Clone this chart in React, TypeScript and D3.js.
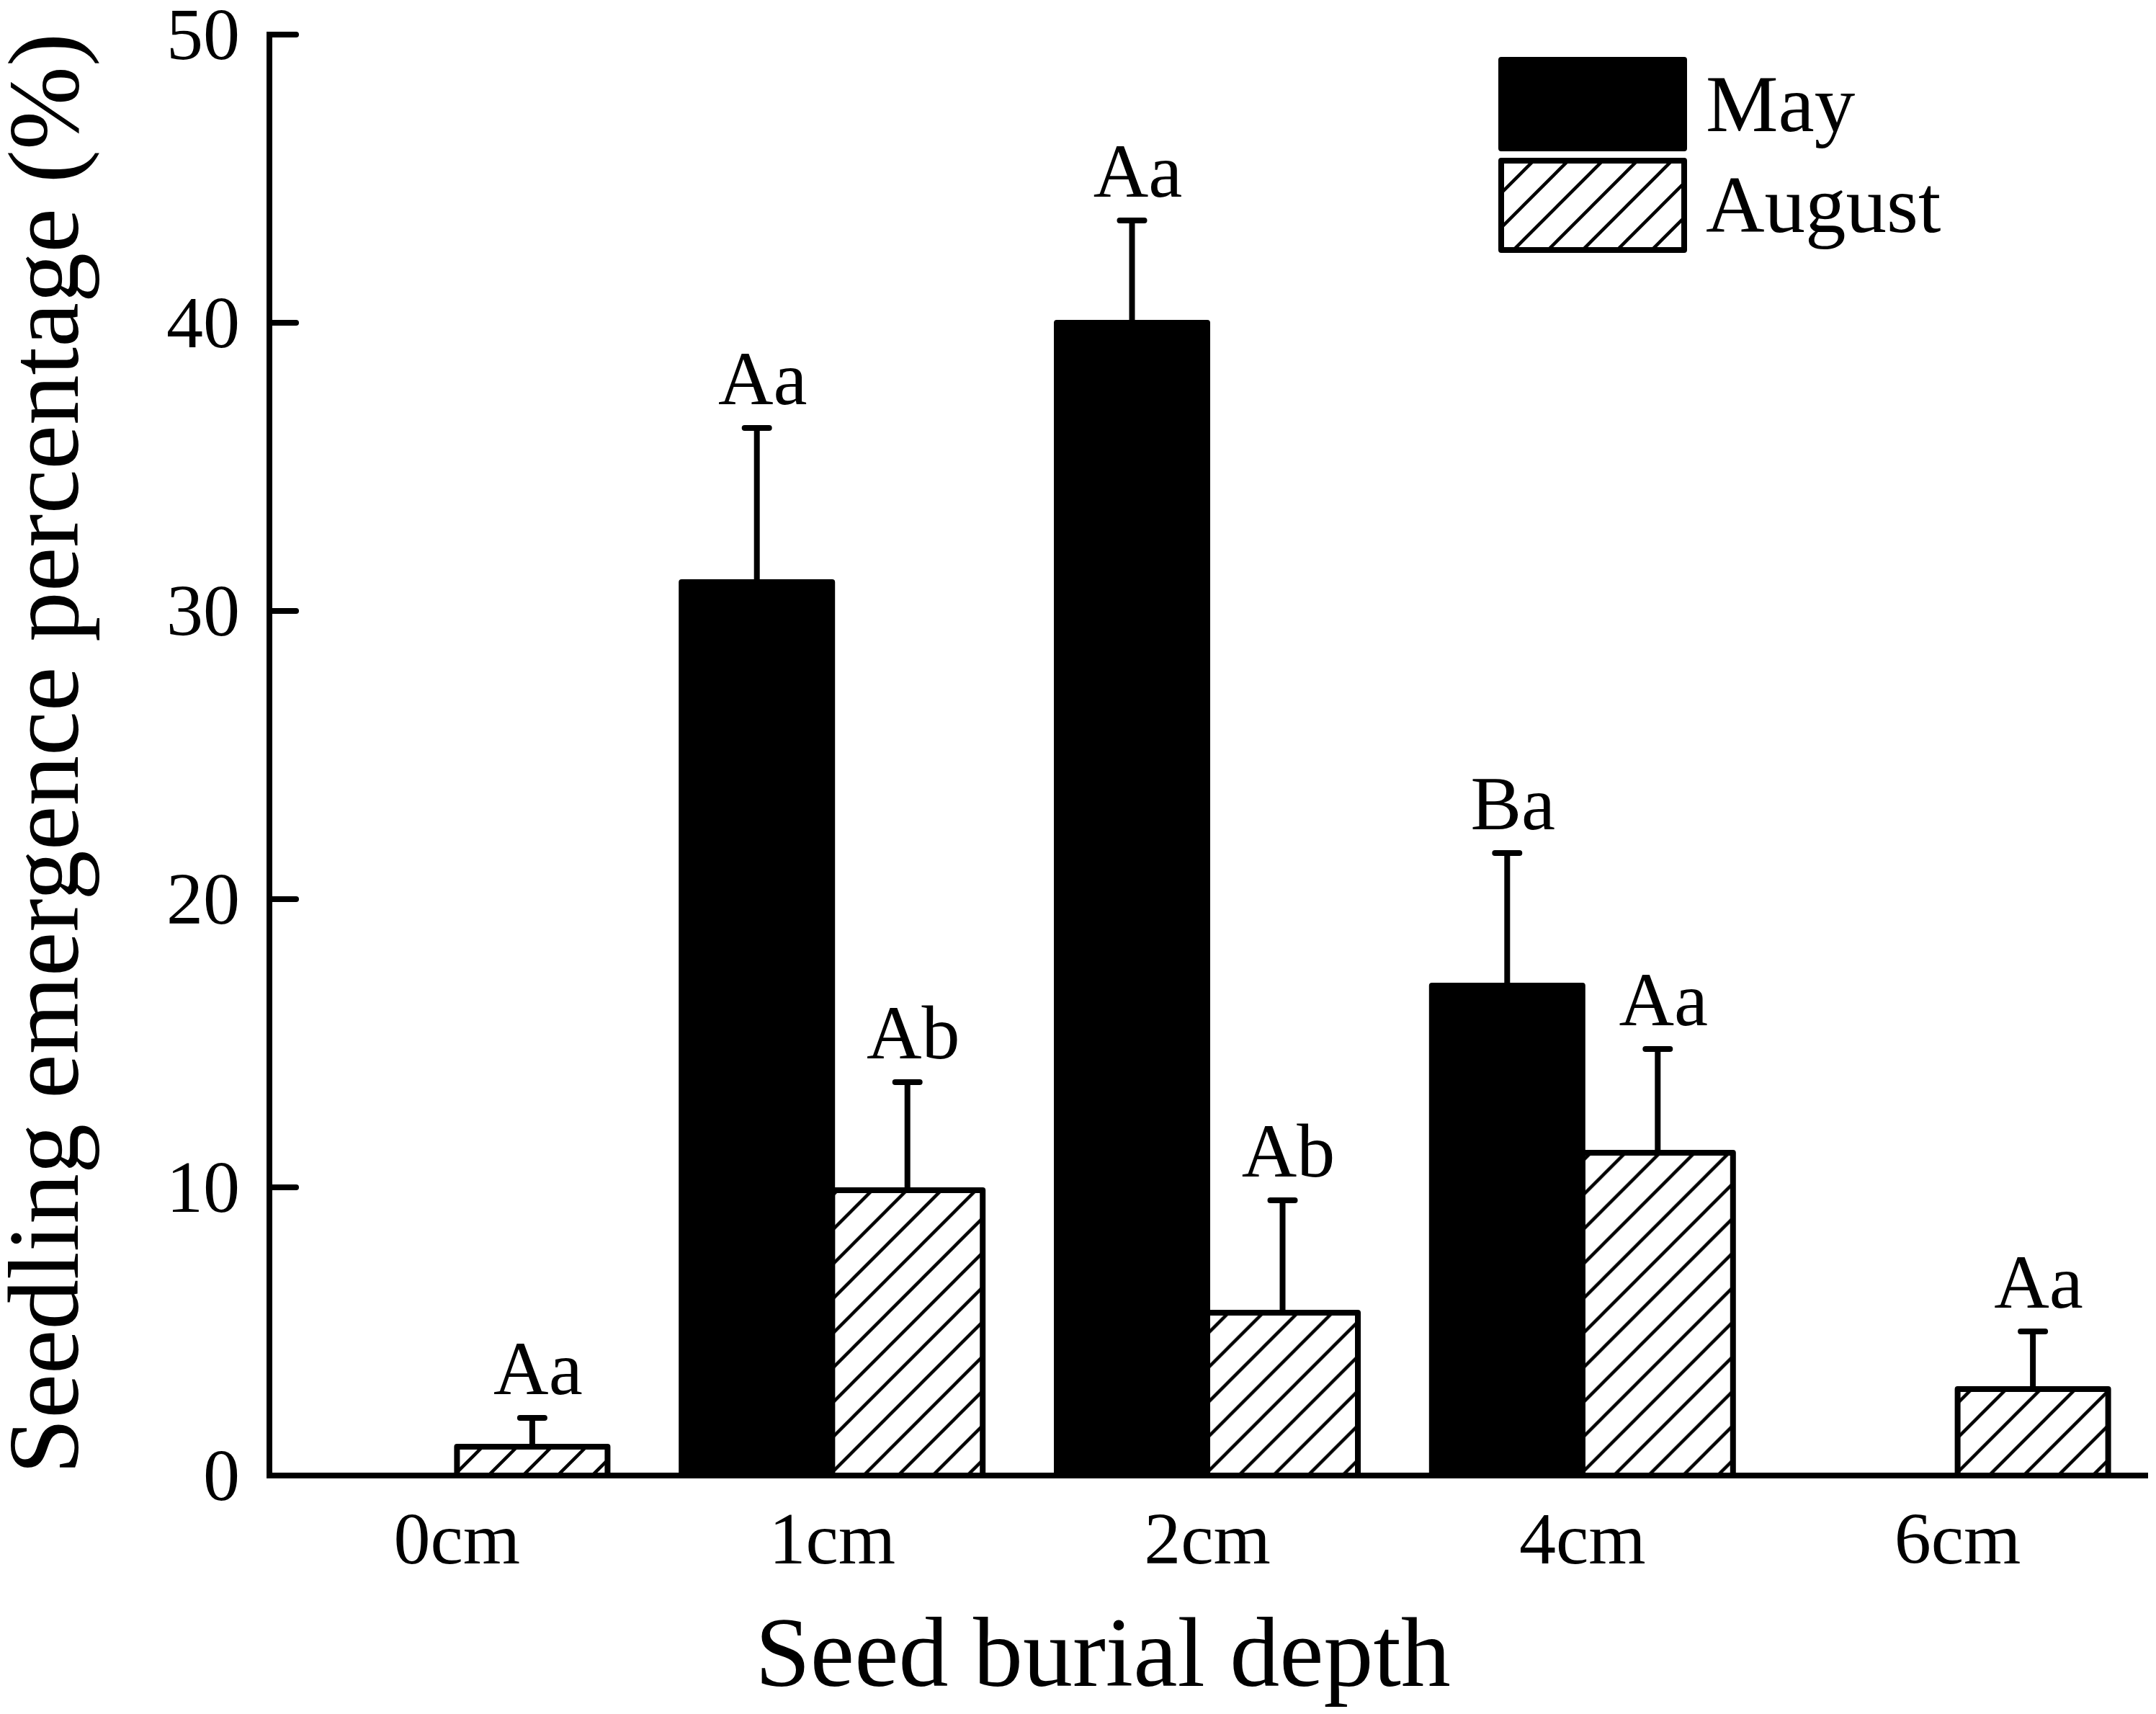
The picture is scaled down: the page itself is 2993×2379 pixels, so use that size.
import React from "react";
import * as d3 from "d3";

const categories = ["0cm", "1cm", "2cm", "4cm", "6cm"];
const series = ["May", "August"];
const mayValues = [0, 31.0, 40.0, 17.0, 0];
const mayErrors = [0, 5.35, 3.55, 4.6, 0];
const augustValues = [1.0, 9.9, 5.65, 11.2, 3.0];
const augustErrors = [1.0, 3.75, 3.9, 3.6, 2.0];
const mayLetters = ["", "Aa", "Aa", "Ba", ""];
const augustLetters = ["Aa", "Ab", "Ab", "Aa", "Aa"];
const yTicks = [0, 10, 20, 30, 40, 50];

const W = 2993;
const H = 2379;
const FONT = "'Liberation Serif', 'Times New Roman', serif";

export default function App() {
  const left = 374;
  const right = 2978;
  const top = 48;
  const bottom = 2048;
  const barW = 209;
  const sw = 8;

  const x0 = d3.scaleBand<string>().domain(categories).range([left, right]).paddingInner(0).paddingOuter(0);
  const step = x0.bandwidth();
  const x1 = d3.scaleBand<string>().domain(series).range([step / 2 - barW, step / 2 + barW]).padding(0);
  const y = d3.scaleLinear().domain([0, 50]).range([bottom, top]);

  const rows = categories.map((c, i) => ({
    c,
    bars: [
      { s: "May", v: mayValues[i], e: mayErrors[i], l: mayLetters[i] },
      { s: "August", v: augustValues[i], e: augustErrors[i], l: augustLetters[i] },
    ],
  }));

  return (
    <svg
      width={W}
      height={H}
      viewBox={`0 0 ${W} ${H}`}
      style={{ position: "absolute", left: 0, top: 0, background: "#fff" }}
      fontFamily={FONT}
    >
      <defs>
        <pattern id="hatch" patternUnits="userSpaceOnUse" width={48} height={48}>
          <path
            d="M-12,12 L12,-12 M0,48 L48,0 M36,60 L60,36"
            stroke="#000"
            strokeWidth={4.5}
            fill="none"
          />
        </pattern>
      </defs>
      <rect x={0} y={0} width={W} height={H} fill="#fff" />

      {/* bars */}
      {rows.map((r) => (
        <g key={r.c} transform={`translate(${x0(r.c)},0)`}>
          {r.bars.map((b) =>
            b.v > 0 ? (
              <rect
                key={b.s}
                x={x1(b.s)}
                y={y(b.v)}
                width={x1.bandwidth()}
                height={y(0) - y(b.v)}
                fill={b.s === "May" ? "#000" : "url(#hatch)"}
                stroke="#000"
                strokeWidth={sw}
                strokeLinejoin="round"
              />
            ) : null
          )}
        </g>
      ))}

      {/* error bars and letters */}
      {rows.map((r) => (
        <g key={r.c + "e"} transform={`translate(${x0(r.c)},0)`}>
          {r.bars.map((b) => {
            const cx = (x1(b.s) as number) + x1.bandwidth() / 2;
            const yt = y(b.v + b.e);
            return (
              <g key={b.s}>
                {b.e > 0 && (
                  <>
                    <line x1={cx} x2={cx} y1={y(b.v)} y2={yt} stroke="#000" strokeWidth={sw} />
                    <line x1={cx - 17} x2={cx + 17} y1={yt} y2={yt} stroke="#000" strokeWidth={sw} strokeLinecap="round" />
                  </>
                )}
                {b.l && (
                  <text x={cx + 8} y={yt - 33} textAnchor="middle" fontSize={106} fill="#000">
                    {b.l}
                  </text>
                )}
              </g>
            );
          })}
        </g>
      ))}

      {/* axes */}
      <line x1={left} x2={left} y1={top} y2={bottom} stroke="#000" strokeWidth={sw} strokeLinecap="square" />
      <line x1={left} x2={right} y1={bottom} y2={bottom} stroke="#000" strokeWidth={sw} strokeLinecap="square" />
      {yTicks.map((t) => (
        <g key={t}>
          <line x1={left} x2={left + 37} y1={y(t)} y2={y(t)} stroke="#000" strokeWidth={sw} strokeLinecap="round" />
          <text x={333} y={y(t) + 34} textAnchor="end" fontSize={102} fill="#000">
            {t}
          </text>
        </g>
      ))}
      {categories.map((c) => (
        <text key={c} x={(x0(c) as number) + step / 2} y={2170} textAnchor="middle" fontSize={102} fill="#000">
          {c}
        </text>
      ))}

      {/* titles */}
      <text x={1531} y={2340} textAnchor="middle" fontSize={138} fill="#000">
        Seed burial depth
      </text>
      <text
        transform="translate(108,1046) rotate(-90)"
        textAnchor="middle"
        fontSize={139}
        fill="#000"
      >
        Seedling emergence percentage (%)
      </text>

      {/* legend */}
      <rect x={2084} y={83} width={254} height={123} fill="#000" stroke="#000" strokeWidth={sw} strokeLinejoin="round" />
      <rect x={2084} y={223} width={254} height={124} fill="url(#hatch)" stroke="#000" strokeWidth={sw} strokeLinejoin="round" />
      <text x={2368} y={182} fontSize={113} fill="#000">
        {series[0]}
      </text>
      <text x={2368} y={322} fontSize={113} fill="#000">
        {series[1]}
      </text>
    </svg>
  );
}
